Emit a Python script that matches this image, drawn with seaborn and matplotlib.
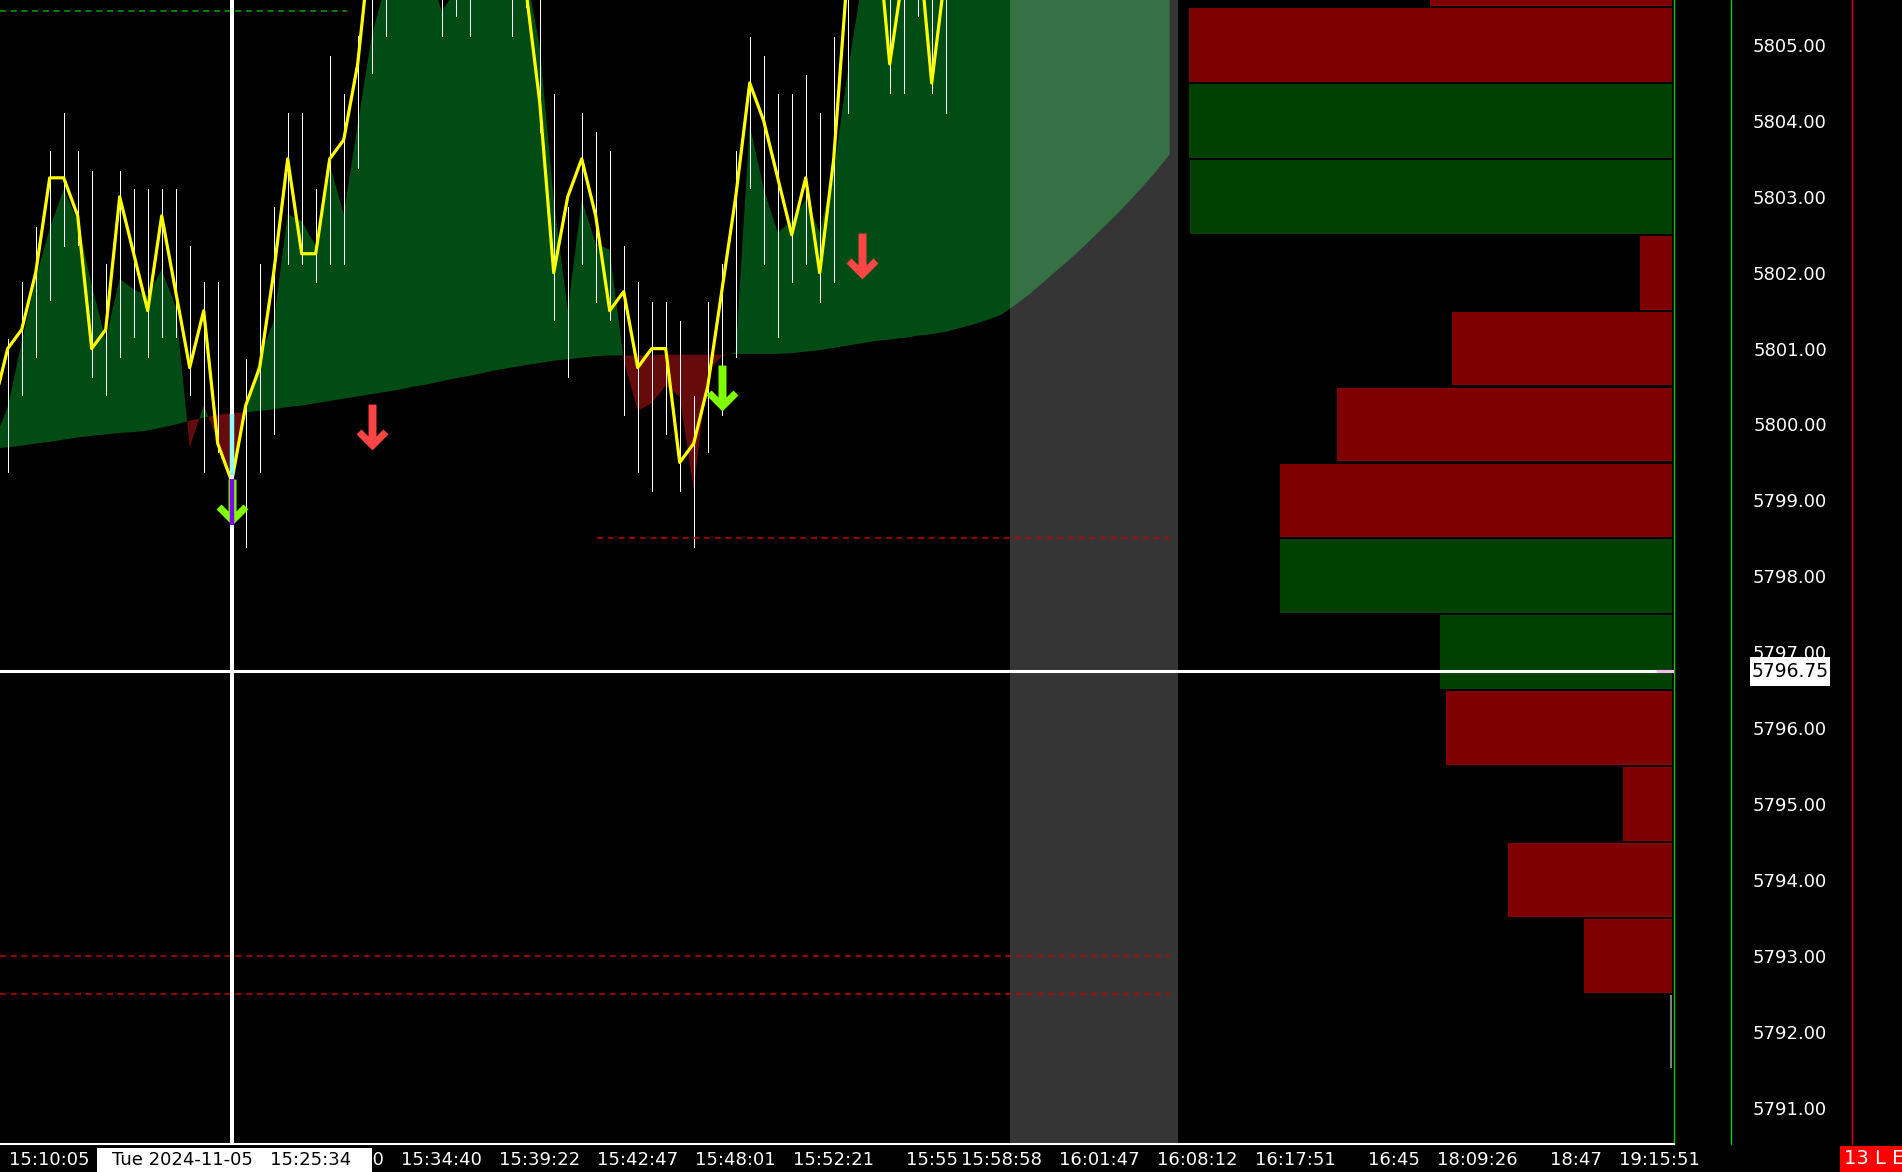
import numpy as np
import matplotlib
matplotlib.use("Agg")
import matplotlib.pyplot as plt
import matplotlib.transforms as mtransforms
from matplotlib.patches import Rectangle
from matplotlib.lines import Line2D
from matplotlib.path import Path
import seaborn as sns

# ---------------------------------------------------------
#  Data : bars -1 .. 67 (bar 16 is under the crosshair)
# ---------------------------------------------------------
close = [5800.25, 5801.0, 5801.25, 5802.0, 5803.25, 5803.25, 5802.75, 5801.0, 5801.25, 5803.0,
         5802.25, 5801.5, 5802.75, 5801.75, 5800.75, 5801.5, 5799.75, 5799.25, 5800.25, 5800.75,
         5802.0, 5803.5, 5802.25, 5802.25, 5803.5, 5803.75, 5804.75, 5806.5, 5806.25, 5806.75,
         5807.0, 5806.5, 5806.0, 5806.25, 5806.75, 5807.0, 5806.5, 5806.25, 5805.75, 5804.25,
         5802.0, 5803.0, 5803.5, 5802.75, 5801.5, 5801.75, 5800.75, 5801.0, 5801.0, 5799.5,
         5799.75, 5800.5, 5801.75, 5803.0, 5804.5, 5804.0, 5803.25, 5802.5, 5803.25, 5802.0,
         5803.5, 5806.0, 5807.0, 5806.75, 5804.75, 5806.0, 5806.5, 5804.5, 5806.0]

high = [5801.0, 5801.12, 5801.88, 5802.6, 5803.6, 5804.11, 5803.6, 5803.34, 5802.11, 5803.34,
        5803.1, 5803.1, 5803.1, 5803.1, 5802.35, 5801.88, 5801.88, 5800.13, 5800.86, 5802.11,
        5802.86, 5804.11, 5804.11, 5803.1, 5804.86, 5804.35, 5805.12, 5807.0, 5806.75, 5807.25,
        5807.5, 5807.0, 5806.5, 5806.75, 5807.25, 5807.5, 5807.0, 5806.75, 5806.5, 5806.0,
        5804.35, 5802.86, 5804.11, 5803.85, 5803.6, 5802.35, 5801.88, 5801.62, 5801.62, 5801.36,
        5800.37, 5801.62, 5802.11, 5803.6, 5805.1, 5804.86, 5804.35, 5804.35, 5804.6, 5804.11,
        5805.1, 5806.5, 5807.5, 5807.25, 5806.5, 5806.5, 5807.0, 5806.0, 5806.5]

low = [5799.8, 5799.38, 5800.39, 5800.89, 5801.64, 5802.35, 5802.37, 5800.63, 5800.39, 5800.89,
       5801.15, 5800.89, 5801.15, 5801.15, 5800.39, 5799.38, 5799.64, 5799.0, 5798.39, 5799.38,
       5799.88, 5802.11, 5802.11, 5801.88, 5802.11, 5802.11, 5803.38, 5804.63, 5805.12, 5805.75,
       5805.9, 5805.75, 5805.12, 5805.38, 5805.12, 5805.75, 5805.75, 5805.12, 5805.5, 5803.85,
       5801.38, 5800.63, 5802.11, 5801.62, 5801.38, 5800.13, 5799.38, 5799.12, 5799.88, 5799.12,
       5798.39, 5799.64, 5800.13, 5800.89, 5803.12, 5802.11, 5801.15, 5801.88, 5802.11, 5801.62,
       5801.88, 5804.11, 5805.9, 5805.9, 5804.37, 5804.37, 5805.38, 5804.37, 5804.11]

# fast line of the cloud (upper edge of the fill)
fast = [5799.75, 5800.23, 5801.08, 5801.92, 5802.58, 5803.1, 5802.68, 5801.83, 5801.12, 5801.92,
        5801.78, 5801.69, 5802.04, 5801.55, 5799.7, 5800.25, 5799.8, 5799.29, 5800.16, 5800.89,
        5801.36, 5802.77, 5802.68, 5802.35, 5803.43, 5802.77, 5803.95, 5805.12, 5805.8, 5806.0,
        5806.0, 5806.0, 5805.45, 5805.7, 5806.0, 5806.0, 5806.0, 5806.0, 5806.0, 5804.98,
        5802.96, 5801.5, 5802.96, 5802.39, 5802.3, 5800.85, 5800.18, 5800.28, 5800.51, 5800.37,
        5799.15, 5800.7, 5800.9, 5800.95, 5803.95, 5803.1, 5802.53, 5802.68, 5802.96, 5802.53,
        5803.33, 5804.65, 5805.8, 5806.0, 5806.0, 5806.0, 5806.0, 5806.0, 5806.0]

# slow line of the cloud, bars -1 .. 83 (projected past the last bar)
slow = [5799.68,
        5799.70, 5799.72, 5799.75, 5799.77, 5799.80, 5799.83, 5799.85, 5799.87, 5799.89, 5799.90, 5799.92,
        5799.96, 5800.00, 5800.05, 5800.09, 5800.13, 5800.15, 5800.16, 5800.18, 5800.20, 5800.23,
        5800.25, 5800.28, 5800.31, 5800.34, 5800.37, 5800.40, 5800.43, 5800.46, 5800.50, 5800.53,
        5800.57, 5800.61, 5800.64, 5800.68, 5800.72, 5800.75, 5800.78, 5800.81, 5800.84, 5800.86,
        5800.88, 5800.90, 5800.91, 5800.91, 5800.91, 5800.91, 5800.92, 5800.92, 5800.92, 5800.92,
        5800.92, 5800.93, 5800.93, 5800.93, 5800.93, 5800.94, 5800.96, 5800.98, 5801.01, 5801.04,
        5801.07, 5801.10, 5801.12, 5801.14, 5801.17, 5801.19, 5801.22, 5801.27, 5801.32, 5801.38,
        5801.45, 5801.58, 5801.72, 5801.88, 5802.04, 5802.20, 5802.37, 5802.55, 5802.73, 5802.92,
        5803.12, 5803.33, 5803.56]

# signal arrows
sell_bars = [26, 61]
sell_prices = [5799.97, 5802.22]
buy_bars = [16, 51]
buy_prices = [5798.98, 5800.48]

# hovered bar body (cyan / purple)
hover_body = [5799.34, 5800.14]
hover_tail = [5798.68, 5799.28]

# volume profile
profile_price = [5806, 5805, 5804, 5803, 5802, 5801, 5800, 5799, 5798, 5797, 5796, 5795, 5794, 5793, 5792]
profile_vol = [2420, 4830, 4830, 4820, 320, 2200, 3350, 3920, 3920, 2320, 2260, 490, 1640, 880, 20]
profile_side = ['sell', 'sell', 'buy', 'buy', 'sell', 'sell', 'sell', 'sell', 'buy', 'buy',
                'sell', 'sell', 'sell', 'sell', 'flat']

# levels (price, first bar, last bar)
red_levels = [5798.5, 5793.0, 5792.5]
red_start = [42.1, -0.55, -0.55]
red_end = [83.0, 83.0, 83.0]
green_level = 5805.45
green_end = 24.2

# axis text
tick_bars = [3, 10, 17, 24, 31, 38, 45, 52, 59, 66, 71, 78, 85, 92, 99, 105, 112, 118]
tick_labels = ['15:10:05', '15:17:36', '15:22:14', '15:29:50', '15:34:40', '15:39:22', '15:42:47',
               '15:48:01', '15:52:21', '15:55', '15:58:58', '16:01:47', '16:08:12', '16:17:51',
               '16:45', '18:09:26', '18:47', '19:15:51']
price_ticks = list(range(5791, 5806))

cross_bar = 16
cross_price = 5796.75
cross_time = 'Tue 2024-11-05   15:25:34'
session_start, session_end = 71.6, 83.6

###########################################################
#  Plot                                                   #
###########################################################
sns.set_style('dark', {'axes.facecolor': 'black', 'figure.facecolor': 'black',
                       'axes.grid': False})
plt.rcParams['font.family'] = ['DejaVu Sans']

GREEN_FILL = '#004c14'
RED_FILL = '#650b0b'
W, H = 1902, 1172
YLIM = (5790.52, 5805.593)

fig = plt.figure(figsize=(W / 100, H / 100), dpi=100, facecolor='black')

# volume profile axes (behind the price axes)
prof = fig.add_axes([1189 / W, 28 / H, 483 / W, 1144 / H])
prof.set_zorder(0)
side_color = {'sell': '#7f0000', 'buy': '#004000', 'flat': '#808080'}
prof.barh(profile_price, profile_vol, height=0.97,
          color=[side_color[s] for s in profile_side], lw=0)
prof.set_xlim(max(profile_vol), 0)
prof.set_ylim(*YLIM)
prof.axis('off')

ax = fig.add_axes([0, 28 / H, 1674 / W, 1144 / H])
ax.set_zorder(1)
ax.set_facecolor('none')
ax.set_xlim(-0.55, 119.02)
ax.set_ylim(*YLIM)

bars = np.arange(-1, len(close) - 1)
proj = np.arange(-1, len(slow) - 1)
slow_a = np.array(slow)
# past the last bar the cloud reaches the top of the pane
top = np.concatenate([fast, np.full(len(slow) - len(fast), YLIM[1] + 1)])

# cloud
ax.fill_between(proj, top, slow_a, where=top >= slow_a, interpolate=True,
                color=GREEN_FILL, lw=0, zorder=1)
ax.fill_between(proj, top, slow_a, where=top < slow_a, interpolate=True,
                color=RED_FILL, lw=0, zorder=1)

# session shading
ax.axvspan(session_start, session_end, color='white', alpha=0.21, lw=0, zorder=1.5)

# levels
ax.hlines(red_levels, red_start, red_end, colors='#c00000', linestyles=(0, (4, 3)),
          lw=1.1, zorder=2.5)
ax.hlines(green_level, -0.55, green_end, colors='#00a000', linestyles=(0, (4, 3)),
          lw=1.1, zorder=2.5)

# wicks and close line
ax.vlines(bars, low, high, colors='white', lw=0.72, zorder=2, antialiased=False)
sns.lineplot(x=bars, y=close, color='#ffff00', lw=2.3, ax=ax, zorder=3)

# crosshair
ax.axvline(cross_bar, color='white', lw=2.9, zorder=3.5)
ax.axhline(cross_price, color='white', lw=2.2, zorder=3.5)
ax.hlines(cross_price, 117.7, 119.02, colors='#ffb8f0', lw=2.2, zorder=3.6)

# signal arrows
arrow = Path([(0, -23), (-16, -7), (-11, -2), (-4, -9), (-4, 23), (4, 23),
              (4, -9), (11, -2), (16, -7), (0, -23)], closed=True)
ax.plot(sell_bars, sell_prices, ls='none', marker=arrow, ms=33, mew=0,
        color='#ff4646', zorder=4)
ax.plot(buy_bars, buy_prices, ls='none', marker=arrow, ms=33, mew=0,
        color='#7fff00', zorder=4)
ax.vlines(cross_bar, hover_body[0], hover_body[1], colors='#90ffff', lw=3.2, zorder=4.5)
ax.vlines(cross_bar, hover_tail[0], hover_tail[1], colors='#8000ff', lw=3.2, zorder=4.5)

ax.set_xlabel('')
ax.set_ylabel('')
ax.grid(False)

# axes decoration
for side in ['left', 'top']:
    ax.spines[side].set_visible(False)
ax.spines['bottom'].set_color('white')
ax.spines['bottom'].set_linewidth(1.5)
ax.spines['right'].set_color('#00c800')
ax.spines['right'].set_linewidth(1.0)

ax.set_xticks(tick_bars, tick_labels)
ax.tick_params(axis='x', colors='white', length=3, width=1, pad=2, labelsize=13)

ax.yaxis.tick_right()
ax.set_yticks(price_ticks, [f'{p:.2f}' for p in price_ticks])
ax.tick_params(axis='y', length=0, pad=83.5, labelcolor='white', labelsize=13)
for t in ax.get_yticklabels():
    t.set_horizontalalignment('center')

# right side separators
fig.add_artist(Line2D([1731 / W] * 2, [28 / H, 1], color='#00c800', lw=1,
                      transform=fig.transFigure))
fig.add_artist(Line2D([1852 / W] * 2, [28 / H, 1], color='#e00000', lw=1,
                      transform=fig.transFigure))

# crosshair labels
tx = mtransforms.blended_transform_factory(ax.transData, fig.transFigure)
fig.add_artist(Rectangle((cross_bar - 9.6, 0), 19.6, 24 / H, transform=tx,
                         fc='white', ec='none', zorder=10))
fig.text(cross_bar, 12 / H, cross_time, transform=tx, color='black', fontsize=13,
         ha='center', va='center', zorder=11)

ty = mtransforms.blended_transform_factory(fig.transFigure, ax.transData)
fig.add_artist(Rectangle((1750 / W, cross_price - 0.19), 80 / W, 0.38, transform=ty,
                         fc='white', ec='none', zorder=10))
fig.text(1790 / W, cross_price, f'{cross_price:.2f}', transform=ty, color='black',
         fontsize=13.5, ha='center', va='center', zorder=11)

# status box bottom right
fig.add_artist(Rectangle((1840 / W, 0), 62 / W, 26 / H, transform=fig.transFigure,
                         fc='#ff0000', ec='none', zorder=10))
fig.text(1844 / W, 13 / H, '13 L E', color='white', fontsize=14, ha='left',
         va='center', zorder=11)

fig.savefig('out.png', dpi=100, facecolor='black')
